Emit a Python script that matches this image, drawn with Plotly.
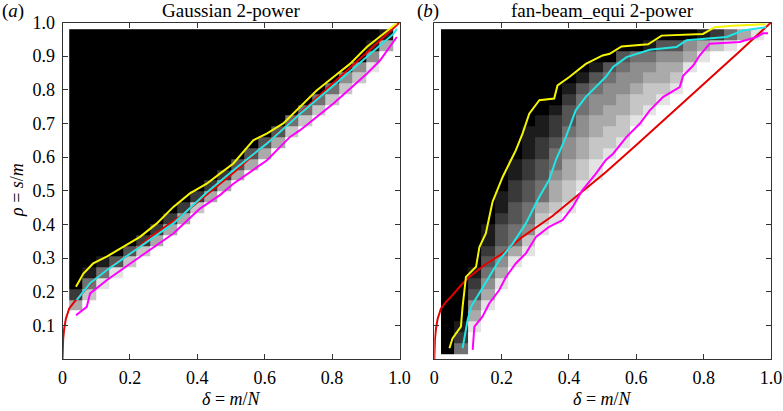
import plotly.graph_objects as go

# ---------------- data ----------------
# heatmap grid (cell centres)
delta_grid = [0.04, 0.08, 0.12, 0.16, 0.20, 0.24, 0.28, 0.32, 0.36, 0.40, 0.44, 0.48,
              0.52, 0.56, 0.60, 0.64, 0.68, 0.72, 0.76, 0.80, 0.84, 0.88, 0.92, 0.96]
rho_grid = [0.031, 0.063, 0.095, 0.128, 0.160, 0.192, 0.224, 0.256, 0.288, 0.320,
            0.353, 0.385, 0.417, 0.449, 0.481, 0.514, 0.546, 0.578, 0.610, 0.642,
            0.674, 0.707, 0.739, 0.771, 0.803, 0.835, 0.867, 0.899, 0.932, 0.964]

# failure level per cell (0 = white ... 9 = black), one string per delta column, bottom -> top
gauss_cols = [
    "000037999999999999999999999999",
    "000002589999999999999999999999",
    "000000158999999999999999999999",
    "000000016999999999999999999999",
    "000000002699999999999999999999",
    "000000000279999999999999999999",
    "000000000037999999999999999999",
    "000000000003799999999999999999",
    "000000000000379999999999999999",
    "000000000000027999999999999999",
    "000000000000003799999999999999",
    "000000000000000379999999999999",
    "000000000000000036999999999999",
    "000000000000000003699999999999",
    "000000000000000000369999999999",
    "000000000000000000036999999999",
    "000000000000000000002599999999",
    "000000000000000000000259999999",
    "000000000000000000000025999999",
    "000000000000000000000002599999",
    "000000000000000000000000249999",
    "000000000000000000000000024999",
    "000000000000000000000000001489",
    "000000000000000000000000000038",
]
fan_cols = [
    "999999999999999999999999999999",
    "578999999999999999999999999999",
    "001346789999999999999999999999",
    "000013456788999999999999999999",
    "000000134566788999999999999999",
    "000000001355667788999999999999",
    "000000000124556677888999999999",
    "000000000001235566778899999999",
    "000000000000123345567789999999",
    "000000000000012233445667899999",
    "000000000000000122334455689999",
    "000000000000000011223344568999",
    "000000000000000000122334456999",
    "000000000000000000012233445699",
    "000000000000000000000122344599",
    "000000000000000000000012234589",
    "000000000000000000000001233469",
    "000000000000000000000000123469",
    "000000000000000000000000001349",
    "000000000000000000000000000138",
    "000000000000000000000000000027",
    "000000000000000000000000000015",
    "000000000000000000000000000003",
    "000000000000000000000000000001",
]

# theoretical curve (red), same in both panels
red_delta = [0, 0.0005, 0.002, 0.005, 0.01, 0.02, 0.035, 0.054, 0.08, 0.104, 0.15,
             0.203, 0.262, 0.351, 0.44, 0.509, 0.6, 0.7, 0.8, 0.9, 1.0]
red_rho = [0, 0.03, 0.06, 0.09, 0.12, 0.15, 0.17, 0.19, 0.22, 0.244, 0.28,
           0.314, 0.363, 0.425, 0.497, 0.555, 0.636, 0.726, 0.817, 0.908, 1.0]

# panel (a) Gaussian: empirical level curves
ga_yel_d = [0.040, 0.062, 0.091, 0.131, 0.18, 0.23, 0.28, 0.329, 0.378, 0.428, 0.467, 0.507,
            0.566, 0.606, 0.655, 0.705, 0.754, 0.804, 0.853, 0.903, 0.962, 0.992]
ga_yel_r = [0.215, 0.254, 0.284, 0.304, 0.333, 0.363, 0.403, 0.452, 0.492, 0.521, 0.551, 0.581,
            0.65, 0.67, 0.70, 0.749, 0.798, 0.838, 0.877, 0.927, 0.976, 0.998]
ga_cya_d = [0.042, 0.082, 0.131, 0.23, 0.329, 0.428, 0.507, 0.606, 0.705, 0.804, 0.903, 0.982, 0.992]
ga_cya_r = [0.175, 0.225, 0.264, 0.333, 0.403, 0.495, 0.561, 0.64, 0.729, 0.813, 0.897, 0.966, 0.981]
ga_mag_d = [0.04, 0.072, 0.082, 0.131, 0.23, 0.329, 0.408, 0.467, 0.507, 0.606, 0.675, 0.705,
            0.804, 0.903, 0.942, 0.992]
ga_mag_r = [0.13, 0.155, 0.195, 0.234, 0.304, 0.373, 0.447, 0.487, 0.521, 0.59, 0.66, 0.68,
            0.759, 0.848, 0.887, 0.957]

# panel (b) fan-beam_equi: empirical level curves
fb_yel_d = [0.045, 0.054, 0.079, 0.084, 0.094, 0.124, 0.134, 0.153, 0.173, 0.203, 0.242, 0.262,
            0.282, 0.312, 0.356, 0.366, 0.401, 0.45, 0.50, 0.521, 0.556, 0.635, 0.675, 0.798,
            0.833, 0.887, 0.986]
fb_yel_r = [0.032, 0.061, 0.096, 0.155, 0.244, 0.274, 0.333, 0.373, 0.467, 0.541, 0.62, 0.67,
            0.729, 0.769, 0.774, 0.813, 0.838, 0.877, 0.902, 0.907, 0.929, 0.935, 0.961, 0.966,
            0.986, 0.99, 0.995]
fb_cya_d = [0.084, 0.099, 0.109, 0.134, 0.163, 0.193, 0.233, 0.272, 0.312, 0.341, 0.361, 0.391,
            0.42, 0.45, 0.48, 0.509, 0.531, 0.571, 0.64, 0.719, 0.749, 0.868, 0.917, 0.986]
fb_cya_r = [0.032, 0.116, 0.155, 0.195, 0.244, 0.294, 0.343, 0.403, 0.482, 0.532, 0.591, 0.66,
            0.739, 0.779, 0.809, 0.838, 0.868, 0.897, 0.919, 0.927, 0.947, 0.957, 0.976, 0.986]
fb_mag_d = [0.114, 0.119, 0.143, 0.163, 0.193, 0.213, 0.242, 0.272, 0.302, 0.341, 0.381, 0.411,
            0.44, 0.48, 0.509, 0.531, 0.571, 0.61, 0.64, 0.68, 0.729, 0.739, 0.769, 0.788, 0.818,
            0.907, 0.957, 0.976, 0.991]
fb_mag_r = [0.027, 0.096, 0.126, 0.165, 0.205, 0.244, 0.284, 0.314, 0.363, 0.393, 0.413, 0.452,
            0.502, 0.551, 0.591, 0.61, 0.66, 0.699, 0.739, 0.779, 0.808, 0.842, 0.872, 0.902, 0.937,
            0.942, 0.957, 0.968, 0.968]

x_ticks = [0, 0.2, 0.4, 0.6, 0.8, 1.0]
x_ticktext = ["0", "0.2", "0.4", "0.6", "0.8", "1.0"]
y_ticks = [0.1, 0.2, 0.3, 0.4, 0.5, 0.6, 0.7, 0.8, 0.9, 1.0]
y_ticktext = ["0.1", "0.2", "0.3", "0.4", "0.5", "0.6", "0.7", "0.8", "0.9", "1.0"]

titles = ["Gaussian 2-power", "fan-beam_equi 2-power"]
panel_labels = ["(<i>a</i>)", "(<i>b</i>)"]

# ---------------- figure ----------------
W, H = 783, 411
FONT = "Liberation Serif"


def to_z(cols):
    return [[int(cols[c][r]) for c in range(len(cols))] for r in range(len(rho_grid))]


YEL, CYA, MAG, RED = "#f5f500", "#22e5e5", "#ff00ff", "#e60000"

fig = go.Figure()
panels = [
    (gauss_cols, (ga_yel_d, ga_yel_r), (ga_cya_d, ga_cya_r), (ga_mag_d, ga_mag_r), "x", "y"),
    (fan_cols, (fb_yel_d, fb_yel_r), (fb_cya_d, fb_cya_r), (fb_mag_d, fb_mag_r), "x2", "y2"),
]
for cols, yel, cya, mag, xa, ya in panels:
    fig.add_trace(go.Heatmap(x=delta_grid, y=rho_grid, z=to_z(cols), zmin=0, zmax=9,
                             colorscale=[[0, "#ffffff"], [1, "#000000"]], showscale=False,
                             xaxis=xa, yaxis=ya, hoverinfo="skip"))
    fig.add_trace(go.Scatter(x=red_delta, y=red_rho, mode="lines", line=dict(color=RED, width=2),
                             xaxis=xa, yaxis=ya, showlegend=False, hoverinfo="skip"))
    for (dx, dy), colr in ((yel, YEL), (cya, CYA), (mag, MAG)):
        fig.add_trace(go.Scatter(x=dx, y=dy, mode="lines", line=dict(color=colr, width=2),
                                 xaxis=xa, yaxis=ya, showlegend=False, hoverinfo="skip"))

# pixel geometry
ax_l = [62.5, 434.3]
ax_r = [399.5, 771.0]
ax_top, ax_bot = 22.5, 359.0
ydom = [1 - ax_bot / H, 1 - ax_top / H]

common = dict(range=[0, 1], showgrid=False, zeroline=False, showline=True, linecolor="#333333",
              linewidth=1, mirror="ticks", ticks="inside", ticklen=5, tickcolor="#333333",
              automargin=False, tickfont=dict(family=FONT, size=18, color="black"))

fig.update_layout(
    width=W, height=H, margin=dict(l=0, r=0, t=0, b=0, autoexpand=False),
    paper_bgcolor="white", plot_bgcolor="white", showlegend=False,
    xaxis=dict(domain=[ax_l[0] / W, ax_r[0] / W], anchor="y", tickvals=x_ticks,
               ticktext=x_ticktext, ticklabelstandoff=2, **common),
    yaxis=dict(domain=ydom, anchor="x", tickvals=y_ticks, ticktext=y_ticktext,
               ticklabelstandoff=3, **common),
    xaxis2=dict(domain=[ax_l[1] / W, ax_r[1] / W], anchor="y2", tickvals=x_ticks,
                ticktext=x_ticktext, ticklabelstandoff=2, **common),
    yaxis2=dict(domain=ydom, anchor="x2", tickvals=y_ticks, showticklabels=False, **common),
)

ann = []
for i in range(2):
    cx = (ax_l[i] + ax_r[i]) / 2 / W
    ann.append(dict(text=titles[i], x=cx, y=1 - 11 / H, xref="paper", yref="paper",
                    showarrow=False, font=dict(family=FONT, size=19, color="black"),
                    xanchor="center", yanchor="middle"))
    ann.append(dict(text="<i>δ</i> = <i>m</i>/<i>N</i>", x=cx, y=1 - 399 / H, xref="paper",
                    yref="paper", showarrow=False, font=dict(family=FONT, size=18, color="black"),
                    xanchor="center", yanchor="middle"))
ann.append(dict(text=panel_labels[0], x=0 / W, y=1 - 11 / H, xref="paper", yref="paper",
                showarrow=False, font=dict(family=FONT, size=19, color="black"),
                xanchor="left", yanchor="middle"))
ann.append(dict(text=panel_labels[1], x=415 / W, y=1 - 11 / H, xref="paper", yref="paper",
                showarrow=False, font=dict(family=FONT, size=19, color="black"),
                xanchor="left", yanchor="middle"))
ann.append(dict(text="<i>ρ</i> = <i>s</i>/<i>m</i>", x=17 / W, y=1 - 190 / H, xref="paper",
                yref="paper", showarrow=False, textangle=-90,
                font=dict(family=FONT, size=18, color="black"),
                xanchor="center", yanchor="middle"))
fig.update_layout(annotations=ann)

fig.write_html("out.html", config={"displayModeBar": False},
               post_script="document.body.style.margin='0';document.body.style.overflow='hidden';")
